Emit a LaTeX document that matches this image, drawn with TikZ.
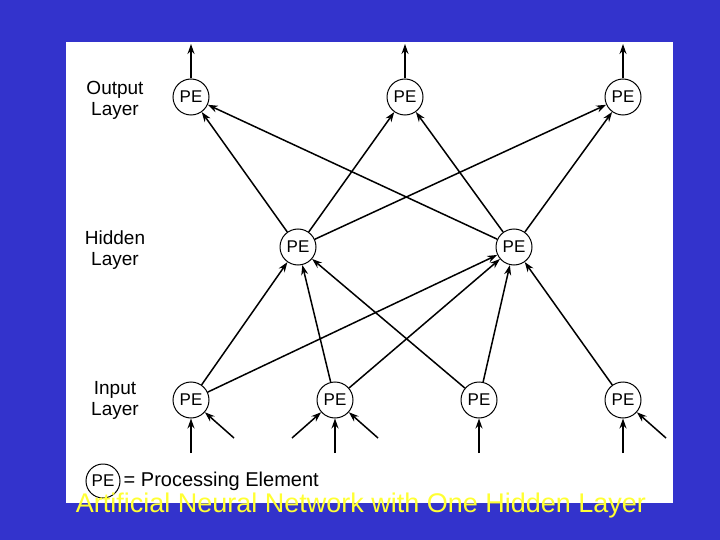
\documentclass[tikz,border=0pt]{standalone}
\usepackage{fontspec}
\setmainfont{Liberation Sans}
\usetikzlibrary{arrows.meta}
\definecolor{bg}{HTML}{3333CC}
\definecolor{cap}{HTML}{FFFF33}
\begin{document}
\begin{tikzpicture}[x=1pt,y=-1pt,
  pe/.style={circle,draw,line width=1pt,fill=white,minimum size=36pt,inner sep=0pt,font=\fontsize{17}{17}\selectfont},
  conn/.style={line width=1.5pt,-{Stealth[length=10pt,width=7pt]}},
  lab/.style={align=center,font=\fontsize{19}{21}\selectfont}]
\fill[bg] (0,0) rectangle (720,540);
\fill[white] (66,42) rectangle (673,503);
\node[pe] (o1) at (191,97) {PE};
\node[pe] (o2) at (405,97) {PE};
\node[pe] (o3) at (623,97) {PE};
\node[pe] (h1) at (298,247) {PE};
\node[pe] (h2) at (514,247) {PE};
\node[pe] (i1) at (191,400) {PE};
\node[pe] (i2) at (335,400) {PE};
\node[pe] (i3) at (479,400) {PE};
\node[pe] (i4) at (623,400) {PE};
\node[lab] (lo) at (115,100) {Output\\Layer};
\node[lab] (lh) at (115,250) {Hidden\\Layer};
\node[lab] (li) at (115,400) {Input\\Layer};
\coordinate (t1) at (191,44); \coordinate (t2) at (405,44); \coordinate (t3) at (623,44);
\foreach \i in {1,2,3}{\draw[conn] (o\i) -- (t\i);}
\foreach \h in {h1,h2}{\foreach \o in {o1,o2,o3}{\draw[conn] (\h) -- (\o);}}
\foreach \i in {i1,i2,i3}{\foreach \h in {h1,h2}{\draw[conn] (\i) -- (\h);}}
\draw[conn] (i4) -- (h2);
\coordinate (b1) at (191,453); \coordinate (b2) at (335,453);
\coordinate (b3) at (479,453); \coordinate (b4) at (623,453);
\foreach \i in {1,2,3,4}{\draw[conn] (b\i) -- (i\i);}
\coordinate (r1) at (234,438); \draw[conn] (r1) -- (i1);
\coordinate (r2) at (378,438); \draw[conn] (r2) -- (i2);
\coordinate (l2) at (292,438); \draw[conn] (l2) -- (i2);
\coordinate (r4) at (666,438); \draw[conn] (r4) -- (i4);
\node[pe,minimum size=34pt] (leg) at (103,481) {PE};
\node[anchor=west,font=\fontsize{20}{20}\selectfont,inner sep=1pt] (legt) at ([xshift=2pt]leg.east) {= Processing Element};
\node[text=cap,font=\fontsize{27}{27}\selectfont] (cap) at (361,506) {Artificial Neural Network with One Hidden Layer};
\end{tikzpicture}
\end{document}
